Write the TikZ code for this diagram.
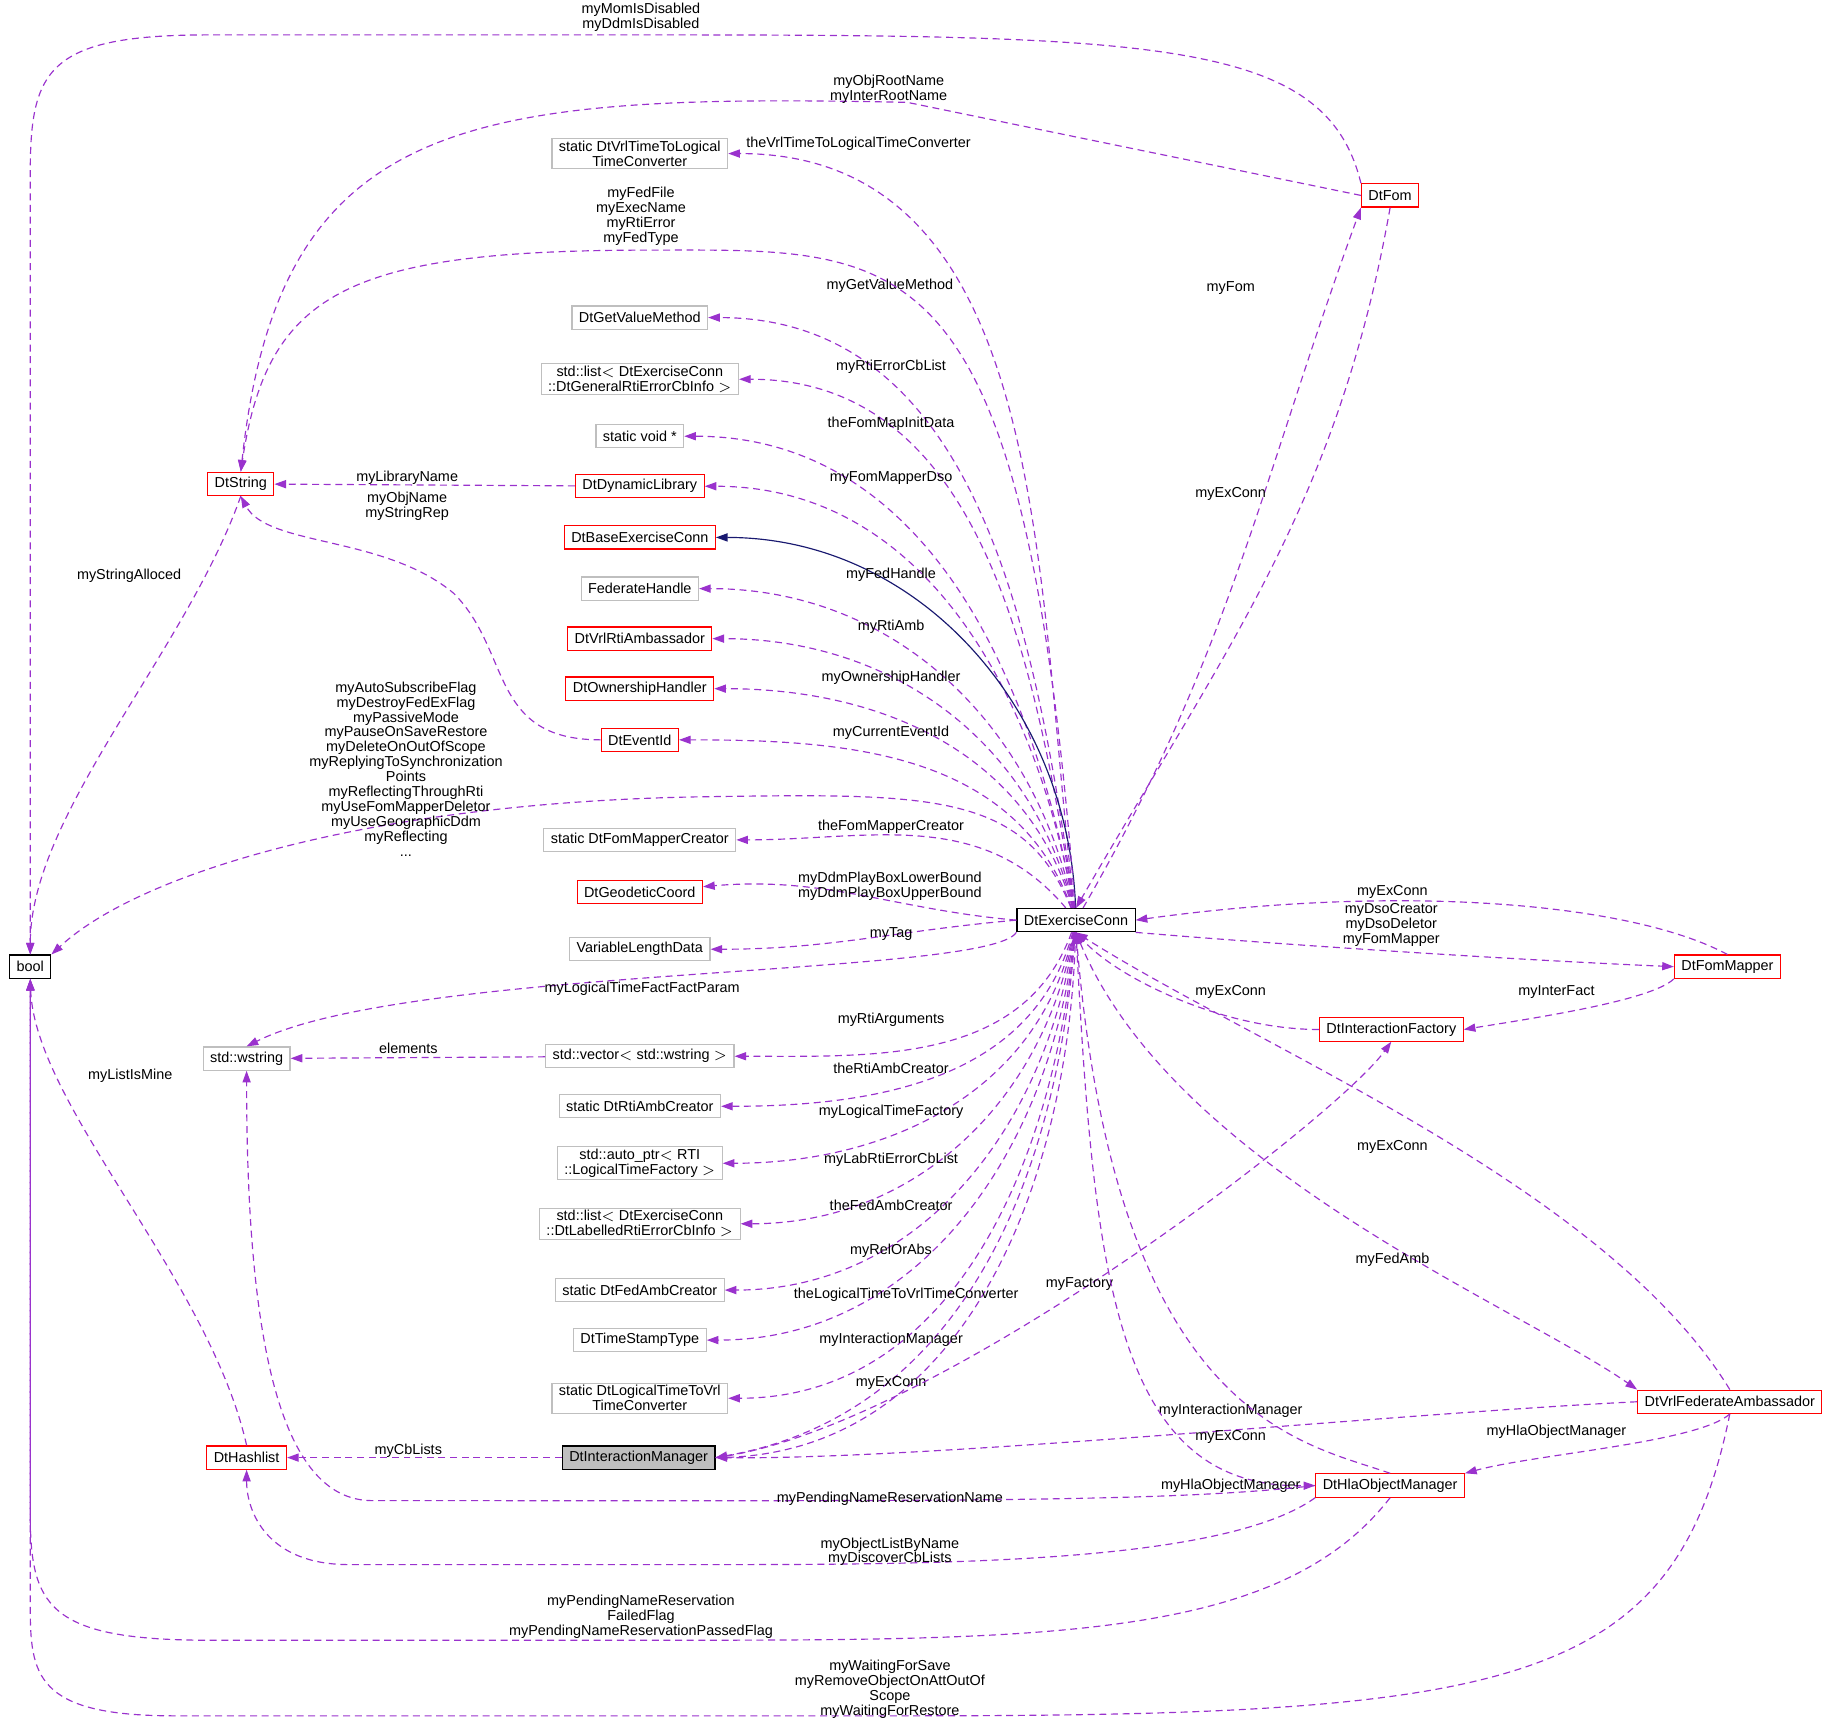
\documentclass[tikz,border=0pt]{standalone}
\usepackage{fontspec}
\setmainfont{Liberation Sans}
\usetikzlibrary{arrows.meta}
\definecolor{relcol}{HTML}{9A32CD}
\definecolor{redcol}{HTML}{FF0000}
\definecolor{graycol}{HTML}{BFBFBF}
\definecolor{navycol}{HTML}{191970}
\begin{document}
\begin{tikzpicture}[x=0.5pt,y=-0.5pt,font=\fontsize{6.2}{6.4}\selectfont]
  \tikzset{
    cls/.style = {draw=black, rectangle, line width=0.5pt, inner xsep=3pt, inner ysep=1pt, minimum height=10pt, align=center, fill=white},
    red/.style = {cls, draw=redcol},
    ext/.style = {cls, draw=graycol},
    lbl/.style = {align=center, inner sep=0pt},
    rel/.style = {draw=relcol, line width=0.5pt, dash pattern=on 3pt off 2pt, -{Triangle[length=5pt,width=3.5pt,fill=relcol]}},
    inh/.style = {draw=navycol, line width=0.5pt, -{Triangle[length=5pt,width=3.5pt,fill=navycol]}}
  }
  \useasboundingbox (0,0) rectangle (1568,1483);

  % main nodes
  \node [cls] (ec) at (925,791) {DtExerciseConn};
  \node [cls] (bool) at (26,831) {bool};
  \node [red] (str) at (207,416) {DtString};
  \node [red] (hash) at (212,1253) {DtHashlist};
  \node [ext] (wstr) at (212,910) {std::wstring};
  \node [cls, fill=graycol] (im) at (549,1253) {DtInteractionManager};
  \node [red] (fom) at (1195,168) {DtFom};
  \node [red] (fm) at (1485,831) {DtFomMapper};
  \node [red] (ifac) at (1196,885) {DtInteractionFactory};
  \node [red] (vfa) at (1487,1205) {DtVrlFederateAmbassador};
  \node [red] (hla) at (1195,1277) {DtHlaObjectManager};

  % middle column
  \node [ext] (v2l) at (550,132) {static DtVrlTimeToLogical\\TimeConverter};
  \node [ext] (gvm) at (550,273) {DtGetValueMethod};
  \node [ext] (gel) at (550,326) {std::list$<$ DtExerciseConn\\::DtGeneralRtiErrorCbInfo $>$};
  \node [ext] (svp) at (550,375) {static void *};
  \node [red] (dyn) at (550,418) {DtDynamicLibrary};
  \node [red] (base) at (550,462) {DtBaseExerciseConn};
  \node [ext] (fh) at (550,506) {FederateHandle};
  \node [red] (rti) at (550,549) {DtVrlRtiAmbassador};
  \node [red] (own) at (550,592) {DtOwnershipHandler};
  \node [red] (evt) at (550,636) {DtEventId};
  \node [ext] (fmc) at (550,722) {static DtFomMapperCreator};
  \node [red] (geo) at (550,767) {DtGeodeticCoord};
  \node [ext] (vld) at (550,816) {VariableLengthData};
  \node [ext] (vec) at (550,908) {std::vector$<$ std::wstring $>$};
  \node [ext] (rac) at (550,951) {static DtRtiAmbCreator};
  \node [ext] (ltf) at (550,1000) {std::auto\_ptr$<$ RTI\\::LogicalTimeFactory $>$};
  \node [ext] (lab) at (550,1052) {std::list$<$ DtExerciseConn\\::DtLabelledRtiErrorCbInfo $>$};
  \node [ext] (fac) at (550,1109) {static DtFedAmbCreator};
  \node [ext] (tst) at (550,1152) {DtTimeStampType};
  \node [ext] (l2v) at (550,1202) {static DtLogicalTimeToVrl\\TimeConverter};

  % from DtExerciseConn to the column
  \draw [rel] (ec) to[out=97,in=0] (v2l);
  \draw [rel] (ec) to[out=98,in=0] (gvm);
  \draw [rel] (ec) to[out=99,in=0] (gel);
  \draw [rel] (ec) to[out=100,in=0] (svp);
  \draw [rel] (ec) to[out=100,in=0] (dyn);
  \draw [inh] (ec) to[out=92,in=0] (base);
  \draw [rel] (ec) to[out=102,in=0] (fh);
  \draw [rel] (ec) to[out=104,in=0] (rti);
  \draw [rel] (ec) to[out=106,in=0] (own);
  \draw [rel] (ec) to[out=110,in=0] (evt);
  \draw [rel] (ec) to[out=130,in=0] (fmc);
  \draw [rel] (ec.west) to[out=175,in=5] (geo);
  \draw [rel] (ec.west) to[out=185,in=0] (vld);
  \draw [rel] (ec) to[out=250,in=0] (vec);
  \draw [rel] (ec) to[out=255,in=0] (rac);
  \draw [rel] (ec) to[out=258,in=0] (ltf);
  \draw [rel] (ec) to[out=260,in=0] (lab);
  \draw [rel] (ec) to[out=262,in=0] (fac);
  \draw [rel] (ec) to[out=264,in=0] (tst);
  \draw [rel] (ec) to[out=265,in=0] (l2v);
  \draw [rel] (ec) to[out=266,in=10] (im.east);
  \draw [rel] (im.east) to[out=0,in=268] (ec);
  \node [lbl] (l1) at (738,124) {theVrlTimeToLogicalTimeConverter};
  \node [lbl] (l3) at (765,246) {myGetValueMethod};
  \node [lbl] (l4) at (766,315) {myRtiErrorCbList};
  \node [lbl] (l5) at (766,364) {theFomMapInitData};
  \node [lbl] (l6) at (766,411) {myFomMapperDso};
  \node [lbl] (l8) at (766,494) {myFedHandle};
  \node [lbl] (l9) at (766,539) {myRtiAmb};
  \node [lbl] (l10) at (766,583) {myOwnershipHandler};
  \node [lbl] (l11) at (766,630) {myCurrentEventId};
  \node [lbl] (l13) at (766,711) {theFomMapperCreator};
  \node [lbl] (l14) at (765,762) {myDdmPlayBoxLowerBound\\myDdmPlayBoxUpperBound};
  \node [lbl] (l15) at (766,803) {myTag};
  \node [lbl] (l17) at (766,877) {myRtiArguments};
  \node [lbl] (l18) at (766,918) {theRtiAmbCreator};
  \node [lbl] (l19) at (766,956) {myLogicalTimeFactory};
  \node [lbl] (l20) at (766,997) {myLabRtiErrorCbList};
  \node [lbl] (l21) at (766,1036) {theFedAmbCreator};
  \node [lbl] (l22) at (766,1075) {myRelOrAbs};
  \node [lbl] (l23) at (779,1113) {theLogicalTimeToVrlTimeConverter};
  \node [lbl] (l24) at (766,1152) {myInteractionManager};
  \node [lbl] (l25) at (766,1189) {myExConn};

  % long connectors on the left
  \draw [rel] (ec) .. controls (880,200) and (780,215) .. (560,215) .. controls (300,215) and (230,250) .. (str.north);
  \node [lbl] (l2) at (551,186) {myFedFile\\myExecName\\myRtiError\\myFedType};
  \draw [rel] (ec) .. controls (880,680) and (800,682) .. (600,685) .. controls (320,690) and (120,750) .. (bool.north east);
  \node [lbl] (l12) at (349,661) {myAutoSubscribeFlag\\myDestroyFedExFlag\\myPassiveMode\\myPauseOnSaveRestore\\myDeleteOnOutOfScope\\myReplyingToSynchronization\\Points\\myReflectingThroughRti\\myUseFomMapperDeletor\\myUseGeographicDdm\\myReflecting\\...};
  \draw [rel] (ec.south west) .. controls (850,840) and (350,830) .. (wstr.north);
  \node [lbl] (l16) at (552,850) {myLogicalTimeFactFactParam};
  \draw [rel] (fom.north west) .. controls (1140,35) and (1000,30) .. (560,30) -- (180,30) .. controls (40,30) and (26,60) .. (26,150) -- (bool.north);
  \node [lbl] (l29) at (551,15) {myMomIsDisabled\\myDdmIsDisabled};
  \draw [rel] (fom.west) -- (780,88) .. controls (400,80) and (240,100) .. (str.north);
  \node [lbl] (l28) at (764,77) {myObjRootName\\myInterRootName};
  \draw [rel] (dyn) -- (str);
  \node [lbl] (l30) at (350,411) {myLibraryName};
  \draw [rel] (evt.west) .. controls (420,636) and (440,560) .. (390,510) .. controls (330,460) and (230,470) .. (str.south);
  \node [lbl] (l31) at (350,435) {myObjName\\myStringRep};
  \draw [rel] (str.south) .. controls (160,560) and (26,700) .. (bool.north);
  \node [lbl] (l32) at (111,495) {myStringAlloced};
  \draw [rel] (vec) -- (wstr);
  \node [lbl] (l33) at (351,901) {elements};
  \draw [rel] (im) -- (hash);
  \node [lbl] (l34) at (351,1247) {myCbLists};
  \draw [rel] (hash.north) .. controls (180,1100) and (30,950) .. (bool.south);
  \node [lbl] (l35) at (112,925) {myListIsMine};

  % right side
  \draw [rel] (ec) to[out=60,in=250] (fom.south west);
  \node [lbl] (l26) at (1058,248) {myFom};
  \draw [rel] (fom.south) to[out=260,in=60] (ec.north);
  \node [lbl] (l27) at (1058,425) {myExConn};
  \draw [rel] (fm.north) .. controls (1400,775) and (1200,760) .. (ec.east);
  \node [lbl] (l36) at (1197,767) {myExConn};
  \draw [rel] (ec.south east) .. controls (1100,812) and (1300,825) .. (fm.west);
  \node [lbl] (l37) at (1196,795) {myDsoCreator\\myDsoDeletor\\myFomMapper};
  \draw [rel] (fm.south west) .. controls (1420,860) and (1320,875) .. (ifac.east);
  \node [lbl] (l38) at (1338,853) {myInterFact};
  \draw [rel] (ifac.west) .. controls (1050,885) and (960,840) .. (ec.south);
  \node [lbl] (l39) at (1058,853) {myExConn};
  \draw [rel] (im.east) .. controls (800,1230) and (1150,960) .. (ifac.south);
  \node [lbl] (l40) at (928,1104) {myFactory};
  \draw [rel] (vfa.north) .. controls (1380,1020) and (1080,900) .. (ec.south);
  \node [lbl] (l41) at (1197,986) {myExConn};
  \draw [rel] (ec.south) .. controls (1000,1000) and (1300,1120) .. (vfa.north west);
  \node [lbl] (l42) at (1197,1083) {myFedAmb};
  \draw [rel] (vfa.west) .. controls (1200,1215) and (800,1255) .. (im.east);
  \node [lbl] (l43) at (1058,1213) {myInteractionManager};
  \draw [rel] (vfa.south) .. controls (1460,1240) and (1320,1250) .. (hla.north east);
  \node [lbl] (l44) at (1338,1231) {myHlaObjectManager};
  \draw [rel] (hla.north) .. controls (1120,1240) and (960,1220) .. (ec.south);
  \node [lbl] (l45) at (1058,1235) {myExConn};
  \draw [rel] (ec.south) .. controls (940,1100) and (960,1280) .. (hla.west);
  \node [lbl] (l46) at (1058,1277) {myHlaObjectManager};

  % bottom connectors
  \draw [rel] (hla.west) .. controls (1000,1292) and (800,1290) .. (320,1290) .. controls (240,1290) and (212,1150) .. (wstr.south);
  \node [lbl] (l47) at (765,1288) {myPendingNameReservationName};
  \draw [rel] (hla.south west) .. controls (1050,1345) and (800,1345) .. (600,1345) -- (300,1345) .. controls (230,1345) and (212,1300) .. (hash.south);
  \node [lbl] (l48) at (765,1334) {myObjectListByName\\myDiscoverCbLists};
  \draw [rel] (hla.south) .. controls (1100,1410) and (900,1410) .. (560,1410) -- (180,1410) .. controls (40,1410) and (26,1380) .. (26,1300) -- (bool.south);
  \node [lbl] (l49) at (551,1390) {myPendingNameReservation\\FailedFlag\\myPendingNameReservationPassedFlag};
  \draw [rel] (vfa.south) .. controls (1440,1450) and (1300,1475) .. (780,1475) -- (150,1475) .. controls (30,1475) and (26,1440) .. (26,1380) -- (bool.south);
  \node [lbl] (l50) at (765,1452) {myWaitingForSave\\myRemoveObjectOnAttOutOf\\Scope\\myWaitingForRestore};
\end{tikzpicture}
\end{document}
